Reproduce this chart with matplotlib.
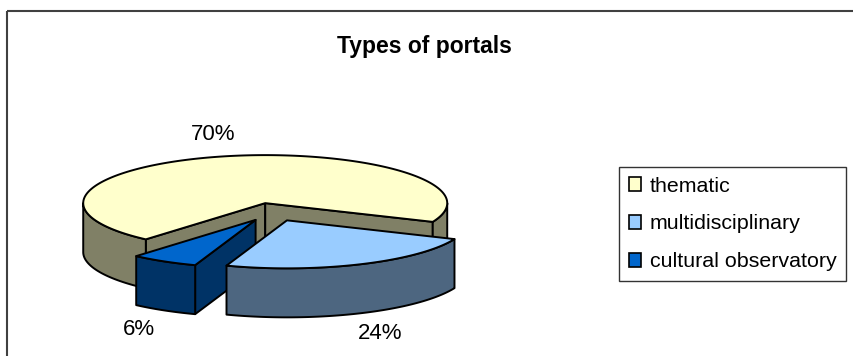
import numpy as np
import matplotlib
matplotlib.use("Agg")
import matplotlib.pyplot as plt
from matplotlib.patches import Polygon, Rectangle, Patch

plt.rcParams['font.family'] = ['Liberation Sans', 'DejaVu Sans']

# ---- data ----
title = "Types of portals"
categories = ["thematic", "multidisciplinary", "cultural observatory"]
shares = [70, 24, 6]
value_labels = ["70%", "24%", "6%"]
top_colors = ["#FFFFCC", "#99CCFF", "#0066CC"]
side_colors = ["#808066", "#4D6680", "#003366"]

# ---- canvas in pixel units ----
W, H = 854, 356
fig = plt.figure(figsize=(W / 100, H / 100), dpi=100)
ax = fig.add_axes([0, 0, 1, 1])
ax.set_xlim(0, W)
ax.set_ylim(H, 0)
ax.axis('off')

# chart area border (open on the right/bottom)
ax.add_patch(Rectangle((7, 10.5), 870, 370, fill=False, ec='#404040', lw=1.5, zorder=0))

# ---- 3D pie geometry ----
CX, CY = 273, 212      # centre of the top ellipse
RX, RY = 182, 48       # ellipse radii
DEPTH = 49             # thickness of the pie
EXPLODE = 0.19         # radial explosion of every slice
START = 221            # first slice starts here, degrees clockwise from 12 o'clock
LX, LY = 1.27, 1.46    # label radius factors
EDGE = dict(edgecolor='black', linewidth=1.4, joinstyle='round')


def point(t, ox, oy, r=1.0):
    tr = np.radians(t)
    return CX + ox + r * RX * np.sin(tr), CY + oy - r * RY * np.cos(tr)


def arc(t0, t1, ox, oy, n=None):
    n = n or max(int(abs(t1 - t0) * 2), 4)
    ts = np.linspace(t0, t1, n)
    xs, ys = point(ts, ox, oy)
    return np.column_stack([xs, ys])


def front_intervals(t0, t1):
    """Parts of [t0, t1] where the rim faces the viewer (90..270 deg mod 360)."""
    out = []
    k0 = int(np.floor((t0 - 270) / 360)) - 1
    for k in range(k0, k0 + 4):
        lo, hi = 90 + 360 * k, 270 + 360 * k
        a, b = max(t0, lo), min(t1, hi)
        if b > a:
            out.append((a, b))
    return out


total = float(sum(shares))
slices = []
a0 = START
for i, v in enumerate(shares):
    a1 = a0 + 360.0 * v / total
    mid = 0.5 * (a0 + a1)
    ox = EXPLODE * RX * np.sin(np.radians(mid))
    oy = -EXPLODE * RY * np.cos(np.radians(mid))
    slices.append(dict(i=i, a0=a0, a1=a1, mid=mid, ox=ox, oy=oy))
    a0 = a1

# paint from back to front
for s in sorted(slices, key=lambda d: d['oy']):
    i, t0, t1, ox, oy = s['i'], s['a0'], s['a1'], s['ox'], s['oy']
    apex = np.array([CX + ox, CY + oy])
    down = np.array([0, DEPTH])

    # radial cut faces
    for t, sign in ((t0, -1), (t1, 1)):
        normal = t + sign * 90
        if -np.cos(np.radians(normal)) > 0:
            p = np.array(point(t, ox, oy))
            poly = np.array([apex, p, p + down, apex + down])
            ax.add_patch(Polygon(poly, closed=True, facecolor=side_colors[i], **EDGE, zorder=2))

    # outer rim
    for a, b in front_intervals(t0, t1):
        topa = arc(a, b, ox, oy)
        bot = topa[::-1] + down
        ax.add_patch(Polygon(np.vstack([topa, bot]), closed=True,
                             facecolor=side_colors[i], **EDGE, zorder=2))

    # top surface
    top = np.vstack([apex, arc(t0, t1, ox, oy)])
    ax.add_patch(Polygon(top, closed=True, facecolor=top_colors[i], **EDGE, zorder=2))

# percentage labels
for s in slices:
    u, v = np.sin(np.radians(s['mid'])), -np.cos(np.radians(s['mid']))
    x = CX + s['ox'] + LX * RX * u
    y = CY + s['oy'] + LY * RY * v + (DEPTH if v > 0 else 0)
    ax.text(x, y, value_labels[s['i']], ha='center', va='center', fontsize=16, zorder=5)

# title
ax.text(424, 46, title, ha='center', va='center', fontsize=16.5, fontweight='bold', zorder=5)

# legend
handles = [Patch(facecolor=c, edgecolor='black', linewidth=1.2) for c in top_colors]
leg = ax.legend(handles, categories, loc='upper left',
                bbox_to_anchor=(619 / W, 1 - 167 / H), bbox_transform=fig.transFigure,
                fontsize=15.4, frameon=True, fancybox=False, edgecolor='black',
                handlelength=0.6, handleheight=0.6, handletextpad=0.4,
                labelspacing=0.88, borderpad=0.45, borderaxespad=0)
leg.get_frame().set_linewidth(1.0)

fig.savefig("out.png", dpi=100)
